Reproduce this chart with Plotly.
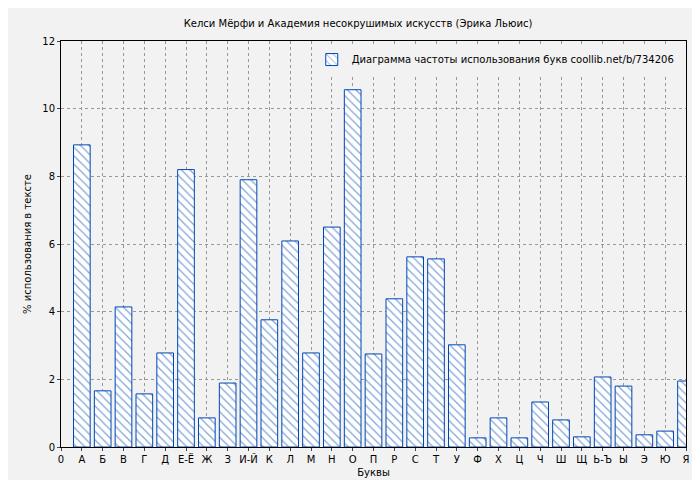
import plotly.graph_objects as go

letters = ["А","Б","В","Г","Д","Е-Ё","Ж","З","И-Й","К","Л","М","Н","О","П","Р","С","Т","У","Ф","Х","Ц","Ч","Ш","Щ","Ь-Ъ","Ы","Э","Ю","Я"]
values = [8.93,1.66,4.14,1.57,2.78,8.2,0.86,1.89,7.9,3.76,6.09,2.78,6.5,10.56,2.75,4.38,5.62,5.56,3.02,0.27,0.86,0.27,1.33,0.8,0.3,2.07,1.8,0.36,0.47,1.95]
tick_labels = ["0"] + letters
xs = list(range(1, len(letters) + 1))

fig = go.Figure(go.Bar(
    x=xs, y=values, width=0.8,
    name="Диаграмма частоты использования букв coollib.net/b/734206",
    marker=dict(color="white", line=dict(color="#0046b4", width=1),
                pattern=dict(shape="\\", fgcolor="#0046b4", size=6, solidity=0.2)),
))
fig.update_layout(
    width=700, height=480,
    paper_bgcolor="#f2f2f2", plot_bgcolor="#f2f2f2",
    margin=dict(l=53, r=22, t=33, b=41, autoexpand=False),
    font=dict(family="DejaVu Sans", size=11, color="black"),
    title=dict(text="Келси Мёрфи и Академия несокрушимых искусств (Эрика Льюис)", x=0.5, y=0.975, xanchor="center", font=dict(size=10)),
    showlegend=True,
    legend=dict(x=0.99, y=0.99, xanchor="right", yanchor="top", bgcolor="#f2f2f2", font=dict(size=10)),
)
fig.update_xaxes(range=[0, 30], tickvals=list(range(0, 31)), ticktext=tick_labels, automargin=False,
                 showgrid=True, gridcolor="#999", griddash="dot", showline=True, linecolor="black",
                 mirror=True, ticks="outside", ticklen=3, tickfont=dict(size=10),
                 title=dict(text="Буквы", standoff=4, font=dict(size=10)), zeroline=False)
fig.update_yaxes(range=[0, 12], dtick=2, showgrid=True, gridcolor="#999", griddash="dot", automargin=False,
                 showline=True, linecolor="black", mirror=True, ticks="outside", ticklen=3, tickfont=dict(size=10),
                 title=dict(text="% использования в тексте", standoff=8, font=dict(size=10)), zeroline=False)
fig.write_html("out.html")
